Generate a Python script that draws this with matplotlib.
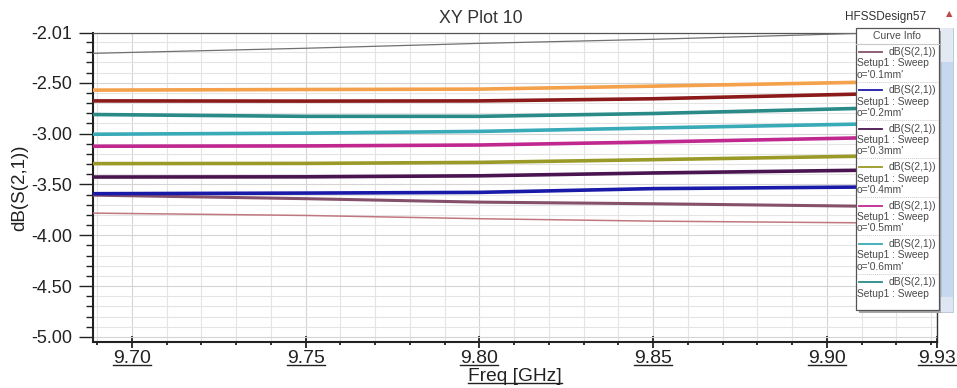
import matplotlib
matplotlib.use('Agg')
import matplotlib.pyplot as plt
from matplotlib.patches import Rectangle
from matplotlib.lines import Line2D

plt.rcParams['font.family'] = ['Liberation Sans', 'DejaVu Sans']

W, H = 957, 388

# ---------------- data ----------------
freq = [9.6888, 9.75, 9.80, 9.85, 9.908, 9.9317]

s_01mm = [-3.605, -3.640, -3.674, -3.690, -3.713, -3.722]   # mauve
s_02mm = [-3.591, -3.585, -3.578, -3.541, -3.526, -3.515]   # blue
s_03mm = [-3.427, -3.425, -3.415, -3.387, -3.361, -3.350]   # purple
s_04mm = [-3.295, -3.293, -3.283, -3.256, -3.223, -3.210]   # olive
s_05mm = [-3.124, -3.121, -3.112, -3.082, -3.043, -3.025]   # magenta
s_06mm = [-3.006, -2.995, -2.978, -2.944, -2.907, -2.890]   # cyan
s_07mm = [-2.812, -2.830, -2.830, -2.802, -2.753, -2.730]   # teal
s_08mm = [-2.678, -2.680, -2.678, -2.657, -2.612, -2.590]   # dark red
s_09mm = [-2.572, -2.566, -2.562, -2.533, -2.496, -2.480]   # orange
s_10mm = [-2.210, -2.160, -2.112, -2.072, -2.015, -1.995]   # gray (thin)
s_11mm = [-3.782, -3.805, -3.837, -3.861, -3.877, -3.884]   # rose (thin)

series = [s_01mm, s_02mm, s_03mm, s_04mm, s_05mm, s_06mm,
          s_07mm, s_08mm, s_09mm, s_10mm, s_11mm]
labels = ["0.1mm", "0.2mm", "0.3mm", "0.4mm", "0.5mm", "0.6mm",
          "0.7mm", "0.8mm", "0.9mm", "1.0mm", "1.1mm"]
colors = ["#85506a", "#1a1aa8", "#4a1450", "#9a9a28", "#c02890", "#38aab8",
          "#2a8a88", "#8c1a1a", "#f5a04a", "#707070", "#c07880"]
widths = [2.2, 2.6, 2.6, 2.6, 2.6, 2.6, 2.6, 2.6, 2.6, 0.9, 1.1]

xticks = [9.70, 9.75, 9.80, 9.85, 9.90, 9.9317]
xticklabels = ["9.70", "9.75", "9.80", "9.85", "9.90", "9.93"]
yticks = [-2.01, -2.50, -3.00, -3.50, -4.00, -4.50, -5.00]
yticklabels = ["-2.01", "-2.50", "-3.00", "-3.50", "-4.00", "-4.50", "-5.00"]

# ---------------- figure ----------------
def fx(x):
    return x / W

def fy(y):
    return 1 - y / H

fig = plt.figure(figsize=(W / 100, H / 100), dpi=100)
ax = fig.add_axes([fx(93), fy(342), fx(937) - fx(93), fy(33) - fy(342)])

for s, c, lw in zip(series, colors, widths):
    ax.plot(freq, s, color=c, lw=lw, solid_capstyle='butt', zorder=3)

ax.set_xlim(9.6888, 9.9317)
ax.set_ylim(-5.05, -2.01)

XT_FS = 14
ax.set_xticks(xticks)
ax.set_xticklabels(xticklabels, fontsize=XT_FS)
xminor = [round(9.69 + 0.01 * i, 2) for i in range(25)]
xminor = [v for v in xminor if abs(v * 20 - round(v * 20)) > 1e-6]
ax.set_xticks(xminor, minor=True)

ax.set_yticks(yticks)
ax.set_yticklabels(yticklabels, fontsize=13)
yminor = [round(-2.1 - 0.1 * i, 2) for i in range(29)]
yminor = [v for v in yminor if abs(v * 2 - round(v * 2)) > 1e-6]
ax.set_yticks(yminor, minor=True)

ax.tick_params(axis='x', which='major', direction='inout', length=9, width=1.3, pad=1.5, colors='#222222')
ax.tick_params(axis='x', which='minor', direction='out', length=2.5, width=1.3, colors='#222222')
ax.tick_params(axis='y', which='major', direction='out', length=10, width=1.0, pad=5, colors='#222222')
ax.tick_params(axis='y', which='minor', direction='out', length=5, width=1.0, colors='#222222')
for lab in ax.get_xticklabels() + ax.get_yticklabels():
    lab.set_color('#222222')

ax.grid(True, which='major', color='#d4d4d4', lw=0.8, zorder=0)
ax.grid(True, which='minor', color='#e4e4e4', lw=0.8, zorder=0)
ax.set_axisbelow(True)

ax.spines['left'].set_linewidth(1.5)
ax.spines['bottom'].set_linewidth(1.5)
ax.spines['left'].set_color('#222222')
ax.spines['bottom'].set_color('#222222')
ax.spines['top'].set_linewidth(0.9)
ax.spines['top'].set_color('#555555')
ax.spines['right'].set_linewidth(1.0)
ax.spines['right'].set_color('#333333')

XL_FS = 13.8
ax.set_xlabel("Freq [GHz]", fontsize=XL_FS, labelpad=0.2, color='#222222')
ax.set_ylabel("dB(S(2,1))", fontsize=13.5, labelpad=2, color='#222222')

fig.text(fx(481), fy(22.7), "XY Plot 10", fontsize=12.8, ha='center', va='baseline', color='#333333')
fig.text(fx(845), fy(20), "HFSSDesign57", fontsize=8.5, ha='left', va='baseline', color='#333333')
fig.text(fx(949), fy(14), "\u25B2", fontsize=6, ha='center', va='center', color='#c04848',
         family=['DejaVu Sans'])

# ---------------- legend box ----------------
bx0, bx1, by0, by1 = 856, 939, 28, 310
fig.add_artist(Rectangle((fx(bx0 + 3), fy(by1 + 3)), fx(bx1 - bx0), fy(by0) - fy(by1),
                         transform=fig.transFigure, facecolor='#a8a8a8', edgecolor='none', zorder=5))
fig.add_artist(Rectangle((fx(bx0), fy(by1)), fx(bx1 - bx0), fy(by0) - fy(by1),
                         transform=fig.transFigure, facecolor='white', edgecolor='#555555', lw=0.9, zorder=6))
# scrollbar
fig.add_artist(Rectangle((fx(941), fy(312)), fx(12), fy(28) - fy(312),
                         transform=fig.transFigure, facecolor='#c6d8f0', edgecolor='#b8c4d4', lw=0.6, zorder=5))
fig.add_artist(Rectangle((fx(941), fy(62)), fx(12), fy(28) - fy(62),
                         transform=fig.transFigure, facecolor='#e2e9f3', edgecolor='none', zorder=5))
fig.add_artist(Rectangle((fx(941), fy(312)), fx(12), fy(297) - fy(312),
                         transform=fig.transFigure, facecolor='#dde6f2', edgecolor='none', zorder=5))

legend_txt = '#4a4a4a'
fig.text(fx(897), fy(36), "Curve Info", fontsize=7.5, ha='center', va='center', color=legend_txt, zorder=7)
fig.add_artist(Line2D([fx(bx0), fx(bx1)], [fy(44), fy(44)], transform=fig.transFigure,
                      color='#c8c8c8', lw=0.8, zorder=7))

pitch = 38.4
for k in range(7):
    yc = 52 + pitch * k
    fig.add_artist(Line2D([fx(859), fx(882)], [fy(yc), fy(yc)], transform=fig.transFigure,
                          color=colors[k], lw=1.3, zorder=7))
    fig.text(fx(936), fy(yc), "dB(S(2,1))", fontsize=7.4, ha='right', va='center', color=legend_txt, zorder=7)
    fig.text(fx(857), fy(yc + 11.5), "Setup1 : Sweep", fontsize=7.4, ha='left', va='center',
             color=legend_txt, zorder=7)
    if k < 6:
        fig.text(fx(857), fy(yc + 22.5), "o='" + labels[k] + "'", fontsize=7.4, ha='left', va='center',
                 color=legend_txt, zorder=7)
        ys = yc + 29.5
        fig.add_artist(Line2D([fx(bx0 + 1), fx(bx1 - 1)], [fy(ys), fy(ys)], transform=fig.transFigure,
                              color='#cccccc', lw=0.7, ls=(0, (1, 1)), zorder=7))

# ---------------- underlines ----------------
fig.canvas.draw()
renderer = fig.canvas.get_renderer()
def underline(txt, fs_pt, color='#222222'):
    bb = txt.get_window_extent(renderer)
    fs_px = fs_pt * 100 / 72.0
    y = bb.y0 + 0.212 * fs_px - 2.0
    fig.add_artist(Line2D([bb.x0 / W, bb.x1 / W], [y / H, y / H], transform=fig.transFigure,
                          color=color, lw=1.0, zorder=8))

for lab in ax.get_xticklabels():
    underline(lab, XT_FS)
underline(ax.xaxis.label, XL_FS)

fig.savefig("out.png", dpi=100)
